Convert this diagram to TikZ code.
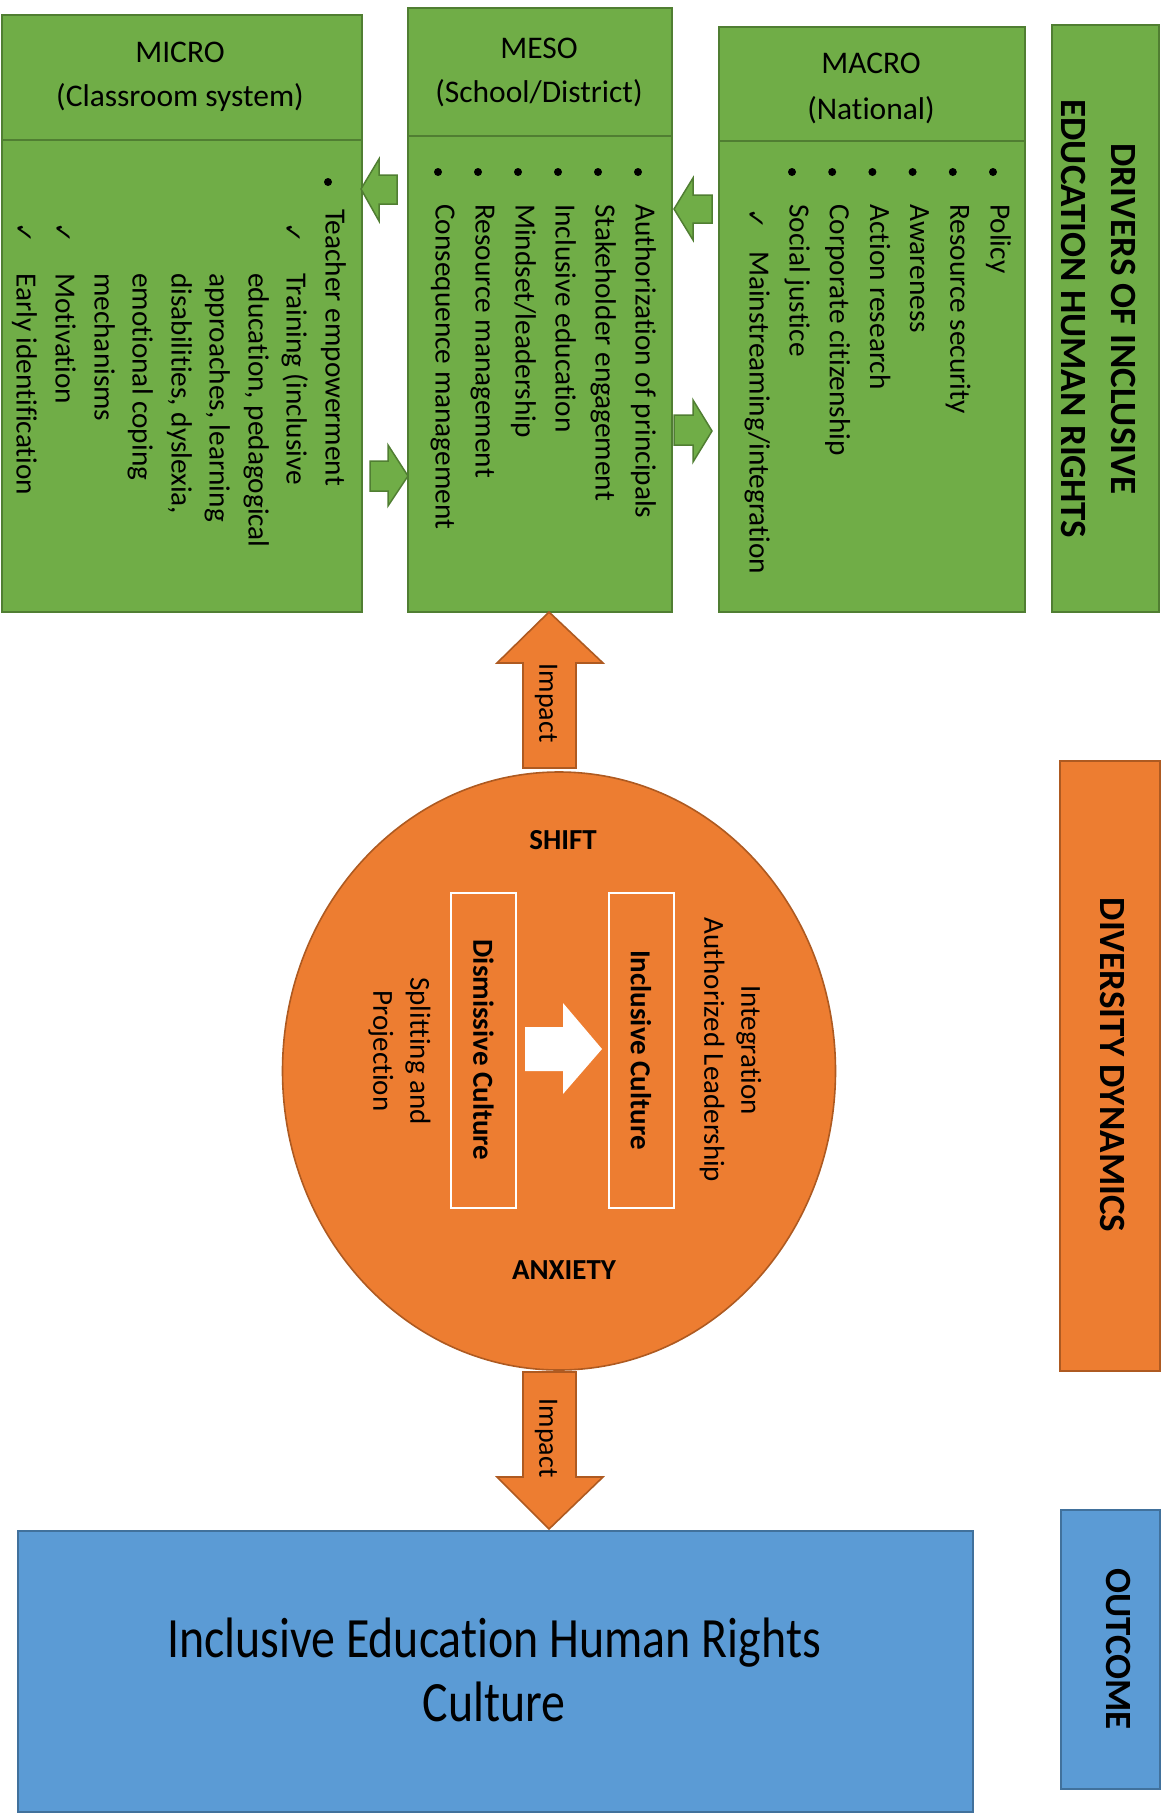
\documentclass[tikz,border=0pt]{standalone}
\usepackage{fontspec}
\setmainfont{Carlito}[Ligatures=NoCommon]
\newfontfamily\symfont{DejaVu Sans}
\newfontfamily\narrowfont[FakeStretch=0.84,Ligatures=NoCommon]{Carlito}
\usetikzlibrary{shapes.geometric}
\definecolor{gfill}{HTML}{70AD47}
\definecolor{gline}{HTML}{507E32}
\definecolor{ofill}{HTML}{ED7D31}
\definecolor{oline}{HTML}{AE5A21}
\definecolor{bfill}{HTML}{5B9BD5}
\definecolor{bline}{HTML}{41719C}
\begin{document}
\begin{tikzpicture}[x=1pt,y=1pt,
  gbox/.style={fill=gfill,draw=gline,line width=2pt,inner sep=0pt,anchor=north west},
  obox/.style={fill=ofill,draw=oline,line width=1.6pt,inner sep=0pt},
  bbox/.style={fill=bfill,draw=bline,line width=2pt,inner sep=0pt,anchor=north west},
  item/.style={rotate=-90,anchor=mid west,inner sep=0pt,font=\fontsize{29.3}{35}\selectfont},
  hdr/.style={align=center,inner sep=0pt,font=\fontsize{31.5}{44}\selectfont},
  dot/.style={circle,fill=black,inner sep=0pt,minimum size=8pt},
  chk/.style={rotate=-90,inner sep=0pt,font=\symfont\fontsize{25}{25}\selectfont},
  vtext/.style={rotate=-90,align=center,inner sep=0pt},
  garrow/.style={fill=gfill,draw=gline,line width=1.5pt,line join=miter},
  oarrow/.style={fill=ofill,draw=oline,line width=1.6pt,line join=miter},
]
\useasboundingbox[fill=white] (0,0) rectangle (1167,-1820);

% ---------- green boxes ----------
\node[gbox,minimum width=360pt,minimum height=125pt] (microH) at (1,-14) {};
\node[gbox,minimum width=360pt,minimum height=472pt] (microB) at (1,-139) {};
\node[gbox,minimum width=264pt,minimum height=128pt] (mesoH) at (407,-7) {};
\node[gbox,minimum width=264pt,minimum height=476pt] (mesoB) at (407,-135) {};
\node[gbox,minimum width=306pt,minimum height=114pt] (macroH) at (718,-26) {};
\node[gbox,minimum width=306pt,minimum height=471pt] (macroB) at (718,-140) {};
\node[gbox,minimum width=107pt,minimum height=587pt] (drivers) at (1051,-24) {};

\node[hdr] (microT) at (180,-77) {MICRO\\(Classroom system)};
\node[hdr] (mesoT) at (539,-72) {MESO\\(School/District)};
\node[hdr,font=\fontsize{31.5}{46}\selectfont] (macroT) at (871,-88) {MACRO\\(National)};

\node[vtext,font=\bfseries\fontsize{37}{50}\selectfont] (driversT) at (1098,-319)
  {DRIVERS OF INCLUSIVE\\EDUCATION HUMAN RIGHTS};

% ---------- MICRO list ----------
\node[dot] (mi0) at (328,-182) {};
\node[item] (mi1) at (328,-209) {Teacher empowerment};
\node[chk] (mic1) at (292,-233) {✓};
\node[item] (mi2) at (289,-273) {Training (inclusive};
\node[item] (mi3) at (251,-273) {education, pedagogical};
\node[item] (mi4) at (212,-273) {approaches, learning};
\node[item] (mi5) at (174,-273) {disabilities, dyslexia,};
\node[item] (mi6) at (135,-273) {emotional coping};
\node[item] (mi7) at (97,-273) {mechanisms};
\node[chk] (mic2) at (62,-233) {✓};
\node[item] (mi8) at (58,-273) {Motivation};
\node[chk] (mic3) at (23,-233) {✓};
\node[item] (mi9) at (19,-273) {Early identification};

% ---------- MESO list ----------
\foreach \t [count=\i from 0] in {Authorization of principals, Stakeholder engagement, Inclusive education, Mindset/leadership, Resource management, Consequence management} {
  \pgfmathsetmacro\xx{638-40*\i}
  \node[dot] (mesod\i) at (\xx,-172) {};
  \node[item] (meso\i) at (\xx,-204) {\t};
}

% ---------- MACRO list ----------
\foreach \t [count=\i from 0] in {Policy, Resource security, Awareness, Action research, Corporate citizenship, Social justice} {
  \pgfmathsetmacro\xx{993-40.2*\i}
  \node[dot] (macrod\i) at (\xx,-172) {};
  \node[item] (macro\i) at (\xx,-204) {\t};
}
\node[chk] (macc) at (755,-219) {✓};
\node[item] (macro6) at (752,-251) {Mainstreaming/integration};

% ---------- green block arrows ----------
\draw[garrow] (361,-189) -- (379,-159) -- (379,-175) -- (397,-175) -- (397,-204) -- (379,-204) -- (379,-221) -- cycle;
\draw[garrow] (370,-461) -- (388,-461) -- (388,-445) -- (408,-476) -- (388,-506) -- (388,-491) -- (370,-491) -- cycle;
\draw[garrow] (674,-209) -- (693,-178) -- (693,-195) -- (712,-195) -- (712,-223) -- (693,-223) -- (693,-240) -- cycle;
\draw[garrow] (674,-415) -- (693,-415) -- (693,-400) -- (712,-431) -- (693,-462) -- (693,-445) -- (674,-445) -- cycle;

% ---------- orange part ----------
\node[obox,ellipse,minimum width=553pt,minimum height=598pt] (circ) at (559,-1071) {};
\node[obox,minimum width=100pt,minimum height=610pt,anchor=north west] (diversity) at (1059,-760) {};
\node[vtext,font=\bfseries\fontsize{37}{44}\selectfont] (diversityT) at (1112,-1065) {DIVERSITY DYNAMICS};

\draw[oarrow] (523,-768) -- (523,-663) -- (497,-663) -- (549,-612) -- (603,-663) -- (576,-663) -- (576,-768) -- cycle;
\node[vtext,font=\fontsize{28}{34}\selectfont] (impact1) at (546,-703) {Impact};
\draw[oarrow] (523,-1372) -- (576,-1372) -- (576,-1477) -- (603,-1477) -- (549,-1529) -- (497,-1477) -- (523,-1477) -- cycle;
\node[vtext,font=\fontsize{28}{34}\selectfont] (impact2) at (546,-1438) {Impact};

\node[font=\bfseries\fontsize{29}{35}\selectfont,inner sep=0pt] (shift) at (563,-840) {SHIFT};
\node[font=\bfseries\fontsize{29}{35}\selectfont,inner sep=0pt] (anxiety) at (564,-1270) {ANXIETY};

\node[draw=white,line width=2pt,minimum width=65pt,minimum height=315pt,inner sep=0pt] (dism) at (483.5,-1050) {};
\node[vtext,font=\bfseries\fontsize{29}{35}\selectfont] (dismT) at (483.5,-1050) {Dismissive Culture};
\node[draw=white,line width=2pt,minimum width=65pt,minimum height=315pt,inner sep=0pt] (incl) at (641.5,-1050) {};
\node[vtext,font=\bfseries\fontsize{29}{35}\selectfont] (inclT) at (641,-1050) {Inclusive Culture};
\fill[white] (525,-1027) -- (563,-1027) -- (563,-1003) -- (602,-1049) -- (563,-1094) -- (563,-1071) -- (525,-1071) -- cycle;

\node[vtext,font=\fontsize{29}{37}\selectfont] (split) at (399.5,-1051) {Splitting and\\Projection};
\node[vtext,font=\fontsize{29}{37}\selectfont] (integ) at (730.5,-1050) {Integration\\Authorized Leadership};

% ---------- blue part ----------
\node[bbox,minimum width=955pt,minimum height=281pt] (outcomeBox) at (17,-1530) {};
\node[align=center,inner sep=0pt,font=\narrowfont\fontsize{57}{64}\selectfont] (outcomeT) at (494,-1670)
  {Inclusive Education Human Rights\\Culture};
\node[bbox,minimum width=99pt,minimum height=279pt] (outcome) at (1060,-1509) {};
\node[vtext,font=\bfseries\fontsize{37}{44}\selectfont] (outcomeL) at (1118,-1649) {OUTCOME};
\end{tikzpicture}
\end{document}
